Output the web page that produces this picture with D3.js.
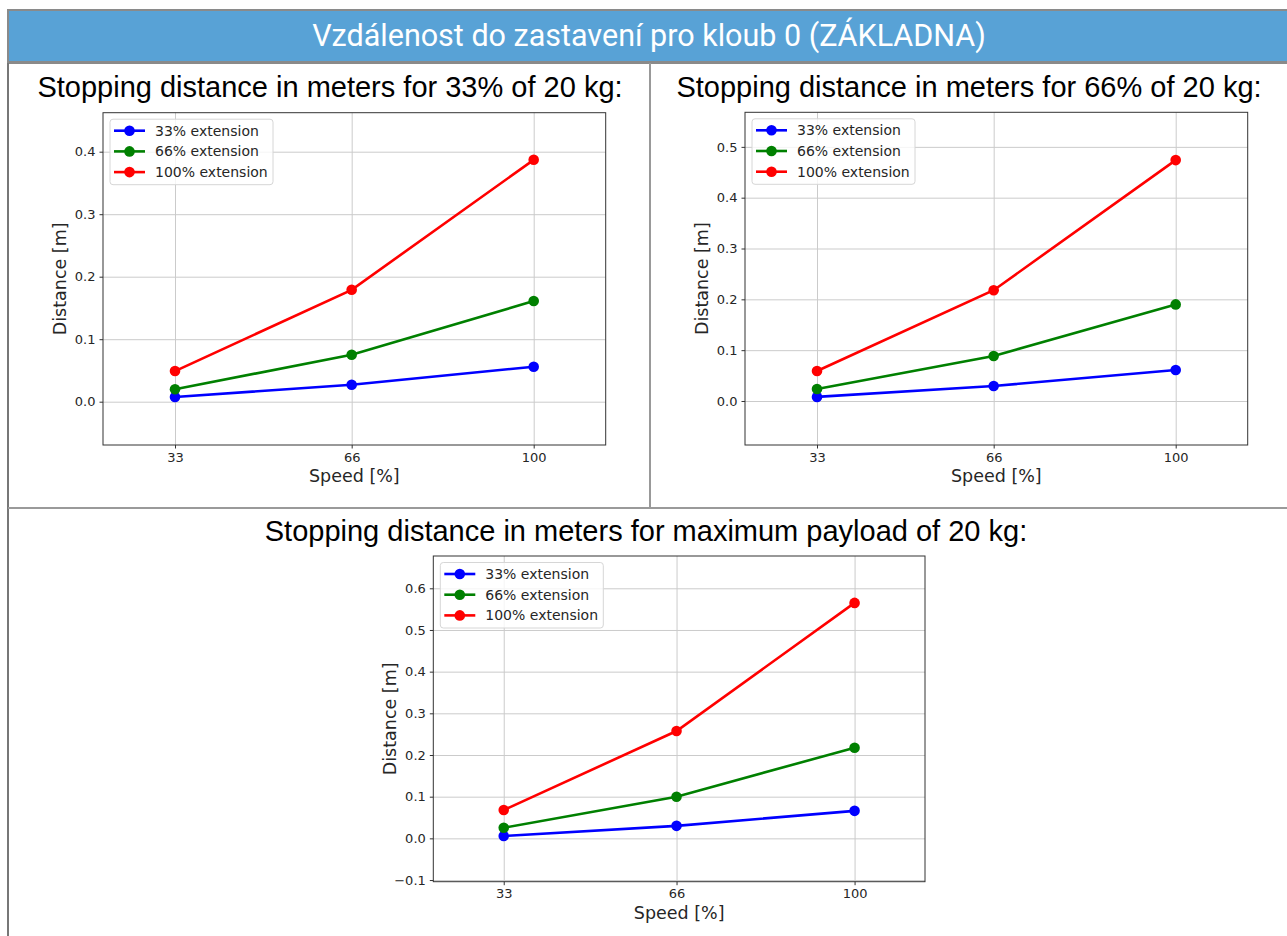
<!DOCTYPE html>
<html>
<head>
<meta charset="utf-8">
<script src="https://cdn.jsdelivr.net/npm/d3@7"></script>
<style>
  body { margin: 0; background: #fff; }
  .grid line { stroke: #cbcbcb; stroke-width: 1; }
  .grid path { display: none; }
  .axis path { display: none; }
  .axis line { stroke: #333; }
  .axis text { font-family: "DejaVu Sans", sans-serif; font-size: 13px; fill: #262626; }
  .alabel { font-family: "DejaVu Sans", sans-serif; font-size: 17.5px; fill: #262626; }
  .legend text { font-family: "DejaVu Sans", sans-serif; font-size: 14px; fill: #262626; }
  .ptitle { font-family: "Liberation Sans", Arial, sans-serif; font-size: 29px; fill: #000; }
</style>
</head>
<body>
<div class="chart"></div>
<script>
// x axis: speed in %
const speeds = [33, 66, 100];
const xLimits = [19.55, 113.45];

const seriesNames = ["33% extension", "66% extension", "100% extension"];
const seriesColors = ["#0000ff", "#008000", "#ff0000"];

// stopping distance [m], one row per extension (33%, 66%, 100%)
const dist33 = [
  [0.0075, 0.027, 0.056],
  [0.020, 0.075, 0.161],
  [0.049, 0.179, 0.387]
];
const dist66 = [
  [0.008, 0.0295, 0.061],
  [0.0236, 0.0886, 0.190],
  [0.059, 0.218, 0.474]
];
const distMax = [
  [0.0055, 0.030, 0.066],
  [0.0255, 0.100, 0.2175],
  [0.068, 0.2575, 0.565]
];

const yLim33 = [-0.0693, 0.4624];
const yTicks33 = [0, 0.1, 0.2, 0.3, 0.4];
const yLim66 = [-0.0866, 0.568];
const yTicks66 = [0, 0.1, 0.2, 0.3, 0.4, 0.5];
const yLimMax = [-0.104, 0.6775];
const yTicksMax = [-0.1, 0, 0.1, 0.2, 0.3, 0.4, 0.5, 0.6];

const headerText = "Vzdálenost do zastavení pro kloub 0 (ZÁKLADNA)";
const titles = [
  "Stopping distance in meters for 33% of 20 kg:",
  "Stopping distance in meters for 66% of 20 kg:",
  "Stopping distance in meters for maximum payload of 20 kg:"
];

const W = 1287, H = 936;

const svg = d3.select(".chart").append("svg")
  .attr("width", W)
  .attr("height", H)
  .style("display", "block");

svg.append("rect").attr("width", W).attr("height", H).attr("fill", "#fff");

// header band
svg.append("rect")
  .attr("x", 7).attr("y", 9)
  .attr("width", W - 7).attr("height", 55)
  .attr("fill", "#8a8a8a");
svg.append("rect")
  .attr("x", 9).attr("y", 11)
  .attr("width", W - 9).attr("height", 50)
  .attr("fill", "#58a2d6");
svg.append("text")
  .attr("x", 649).attr("y", 46)
  .attr("text-anchor", "middle")
  .style("font-family", "Roboto, sans-serif")
  .style("font-size", "30.5px")
  .attr("fill", "#fff")
  .text(headerText);

// table borders
svg.append("line")
  .attr("x1", 8).attr("x2", 8).attr("y1", 63).attr("y2", H)
  .attr("stroke", "#777").attr("stroke-width", 2);
svg.append("line")
  .attr("x1", 650).attr("x2", 650).attr("y1", 63).attr("y2", 508)
  .attr("stroke", "#999").attr("stroke-width", 2);
svg.append("line")
  .attr("x1", 8).attr("x2", W).attr("y1", 508).attr("y2", 508)
  .attr("stroke", "#9a9a9a").attr("stroke-width", 2);

// titles
svg.append("text").attr("class", "ptitle")
  .attr("x", 330).attr("y", 97).attr("text-anchor", "middle").text(titles[0]);
svg.append("text").attr("class", "ptitle")
  .attr("x", 969).attr("y", 97).attr("text-anchor", "middle").text(titles[1]);
svg.append("text").attr("class", "ptitle")
  .attr("x", 646).attr("y", 541).attr("text-anchor", "middle").text(titles[2]);

function drawPanel (cfg) {
  const x = d3.scaleLinear().domain(xLimits).range([cfg.left, cfg.right]);
  const y = d3.scaleLinear().domain(cfg.yLim).range([cfg.bottom, cfg.top]);
  const g = svg.append("g");

  // grid
  g.append("g")
    .attr("class", "grid")
    .attr("transform", `translate(0,${cfg.bottom})`)
    .call(d3.axisBottom(x).tickValues(speeds).tickSize(-(cfg.bottom - cfg.top)).tickFormat(""));
  g.append("g")
    .attr("class", "grid")
    .attr("transform", `translate(${cfg.left},0)`)
    .call(d3.axisLeft(y).tickValues(cfg.yTicks).tickSize(-(cfg.right - cfg.left)).tickFormat(""));

  // axes
  g.append("g")
    .attr("class", "axis")
    .attr("transform", `translate(0,${cfg.bottom})`)
    .call(d3.axisBottom(x).tickValues(speeds).tickSize(3.5).tickPadding(4));
  g.append("g")
    .attr("class", "axis")
    .attr("transform", `translate(${cfg.left},0)`)
    .call(d3.axisLeft(y).tickValues(cfg.yTicks).tickSize(3.5).tickPadding(4).tickFormat(d3.format(".1f")));

  // frame
  g.append("rect")
    .attr("x", cfg.left).attr("y", cfg.top)
    .attr("width", cfg.right - cfg.left).attr("height", cfg.bottom - cfg.top)
    .attr("fill", "none").attr("stroke", "#333").attr("stroke-width", 1);

  // axis labels
  g.append("text").attr("class", "alabel")
    .attr("x", (cfg.left + cfg.right) / 2).attr("y", cfg.bottom + 37)
    .attr("text-anchor", "middle").text("Speed [%]");
  g.append("text").attr("class", "alabel")
    .attr("transform", `translate(${cfg.left - 37},${(cfg.top + cfg.bottom) / 2}) rotate(-90)`)
    .attr("text-anchor", "middle").text("Distance [m]");

  // series
  const line = d3.line()
    .x((d, i) => x(speeds[i]))
    .y(d => y(d));

  cfg.data.forEach((vals, k) => {
    g.append("path")
      .datum(vals)
      .attr("d", line)
      .attr("fill", "none")
      .attr("stroke", seriesColors[k])
      .attr("stroke-width", 2.6);
    g.selectAll(null)
      .data(vals)
      .enter().append("circle")
      .attr("cx", (d, i) => x(speeds[i]))
      .attr("cy", d => y(d))
      .attr("r", 5.3)
      .attr("fill", seriesColors[k]);
  });

  // legend
  const lg = g.append("g")
    .attr("class", "legend")
    .attr("transform", `translate(${cfg.left + 7},${cfg.top + 6.5})`);
  lg.append("rect")
    .attr("width", 163).attr("height", 65.5)
    .attr("rx", 3)
    .attr("fill", "#fff").attr("fill-opacity", 0.8)
    .attr("stroke", "#d6d6d6");
  seriesNames.forEach((name, k) => {
    const yy = 11.5 + k * 20.7;
    lg.append("line")
      .attr("x1", 4).attr("x2", 35)
      .attr("y1", yy).attr("y2", yy)
      .attr("stroke", seriesColors[k]).attr("stroke-width", 2.6);
    lg.append("circle")
      .attr("cx", 19.5).attr("cy", yy).attr("r", 5.3)
      .attr("fill", seriesColors[k]);
    lg.append("text")
      .attr("x", 45).attr("y", yy).attr("dy", "0.35em")
      .text(name);
  });
}

drawPanel({ left: 103, right: 605.7, top: 112.7, bottom: 445, yLim: yLim33, yTicks: yTicks33, data: dist33 });
drawPanel({ left: 745, right: 1247.7, top: 112.3, bottom: 445, yLim: yLim66, yTicks: yTicks66, data: dist66 });
drawPanel({ left: 433.3, right: 925, top: 556, bottom: 881.7, yLim: yLimMax, yTicks: yTicksMax, data: distMax });
</script>
</body>
</html>
